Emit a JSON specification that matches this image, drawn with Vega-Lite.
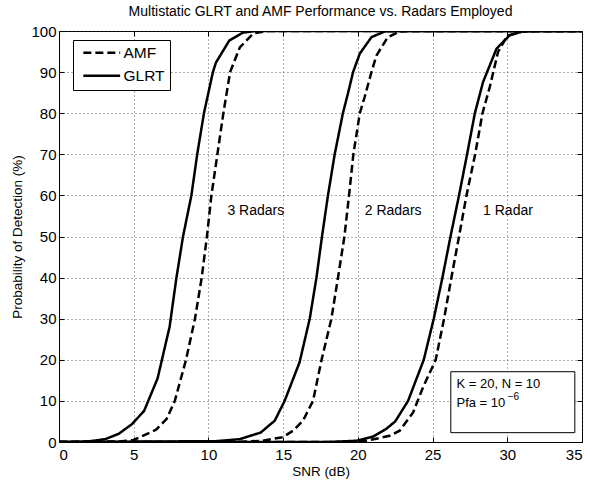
{
  "$schema": "https://vega.github.io/schema/vega-lite/v6.json",
  "autosize": {"type": "none"},
  "padding": {"left": 59, "top": 31, "right": 8, "bottom": 42},
  "width": 523,
  "height": 411,
  "background": "white",
  "title": {
    "text": "Multistatic GLRT and AMF Performance vs. Radars Employed",
    "font": "Liberation Sans",
    "fontSize": 14,
    "fontWeight": "normal",
    "color": "black",
    "anchor": "middle",
    "frame": "group",
    "baseline": "alphabetic",
    "offset": -6
  },
  "config": {
    "font": "Liberation Sans",
    "view": {"stroke": "black", "strokeWidth": 1},
    "axis": {
      "domainColor": "black",
      "tickColor": "black",
      "labelColor": "black",
      "titleColor": "black",
      "labelFont": "Liberation Sans",
      "titleFont": "Liberation Sans",
      "labelFontSize": 15,
      "titleFontSize": 13.5,
      "titleFontWeight": "normal",
      "gridColor": "#333",
      "gridDash": [1, 3],
      "gridWidth": 1,
      "gridOpacity": 0.8
    },
    "legend": {
      "labelFont": "Liberation Sans",
      "labelFontSize": 15.5,
      "labelColor": "black"
    }
  },
  "resolve": {"axis": {"x": "independent", "y": "independent"}},
  "datasets": {
    "curves": [
      {"radars": "3", "method": "GLRT", "snr": 0, "pd": 0},
      {"radars": "3", "method": "GLRT", "snr": 1, "pd": 0},
      {"radars": "3", "method": "GLRT", "snr": 2, "pd": 0.15},
      {"radars": "3", "method": "GLRT", "snr": 3.1, "pd": 0.7},
      {"radars": "3", "method": "GLRT", "snr": 4.0, "pd": 2.0},
      {"radars": "3", "method": "GLRT", "snr": 4.9, "pd": 4.4},
      {"radars": "3", "method": "GLRT", "snr": 5.7, "pd": 7.6},
      {"radars": "3", "method": "GLRT", "snr": 6.6, "pd": 15.5},
      {"radars": "3", "method": "GLRT", "snr": 7.4, "pd": 28},
      {"radars": "3", "method": "GLRT", "snr": 7.86, "pd": 40},
      {"radars": "3", "method": "GLRT", "snr": 8.3, "pd": 50},
      {"radars": "3", "method": "GLRT", "snr": 8.86, "pd": 60},
      {"radars": "3", "method": "GLRT", "snr": 9.25, "pd": 70},
      {"radars": "3", "method": "GLRT", "snr": 9.7, "pd": 80},
      {"radars": "3", "method": "GLRT", "snr": 10.3, "pd": 90},
      {"radars": "3", "method": "GLRT", "snr": 10.5, "pd": 92.3},
      {"radars": "3", "method": "GLRT", "snr": 11.4, "pd": 97.7},
      {"radars": "3", "method": "GLRT", "snr": 12.3, "pd": 99.6},
      {"radars": "3", "method": "GLRT", "snr": 13.2, "pd": 100},
      {"radars": "3", "method": "GLRT", "snr": 35, "pd": 100},
      {"radars": "3", "method": "AMF", "snr": 0, "pd": 0},
      {"radars": "3", "method": "AMF", "snr": 4, "pd": 0.1},
      {"radars": "3", "method": "AMF", "snr": 5.0, "pd": 0.5},
      {"radars": "3", "method": "AMF", "snr": 5.6, "pd": 1.5},
      {"radars": "3", "method": "AMF", "snr": 6.5, "pd": 3.0},
      {"radars": "3", "method": "AMF", "snr": 7.2, "pd": 5.6},
      {"radars": "3", "method": "AMF", "snr": 7.75, "pd": 10},
      {"radars": "3", "method": "AMF", "snr": 8.5, "pd": 20},
      {"radars": "3", "method": "AMF", "snr": 9.1, "pd": 30},
      {"radars": "3", "method": "AMF", "snr": 9.55, "pd": 40},
      {"radars": "3", "method": "AMF", "snr": 9.9, "pd": 50},
      {"radars": "3", "method": "AMF", "snr": 10.2, "pd": 60},
      {"radars": "3", "method": "AMF", "snr": 10.6, "pd": 70},
      {"radars": "3", "method": "AMF", "snr": 11.0, "pd": 80},
      {"radars": "3", "method": "AMF", "snr": 11.45, "pd": 90},
      {"radars": "3", "method": "AMF", "snr": 12.1, "pd": 96},
      {"radars": "3", "method": "AMF", "snr": 13.0, "pd": 99.4},
      {"radars": "3", "method": "AMF", "snr": 14.0, "pd": 100},
      {"radars": "3", "method": "AMF", "snr": 35, "pd": 100},
      {"radars": "2", "method": "GLRT", "snr": 0, "pd": 0},
      {"radars": "2", "method": "GLRT", "snr": 10.5, "pd": 0.2},
      {"radars": "2", "method": "GLRT", "snr": 12.1, "pd": 0.7},
      {"radars": "2", "method": "GLRT", "snr": 13.5, "pd": 2.3},
      {"radars": "2", "method": "GLRT", "snr": 14.44, "pd": 5.2},
      {"radars": "2", "method": "GLRT", "snr": 15.1, "pd": 10},
      {"radars": "2", "method": "GLRT", "snr": 16.1, "pd": 19.4},
      {"radars": "2", "method": "GLRT", "snr": 16.78, "pd": 30},
      {"radars": "2", "method": "GLRT", "snr": 17.23, "pd": 40},
      {"radars": "2", "method": "GLRT", "snr": 17.6, "pd": 50},
      {"radars": "2", "method": "GLRT", "snr": 18.0, "pd": 60},
      {"radars": "2", "method": "GLRT", "snr": 18.45, "pd": 70},
      {"radars": "2", "method": "GLRT", "snr": 19.0, "pd": 80},
      {"radars": "2", "method": "GLRT", "snr": 19.35, "pd": 85},
      {"radars": "2", "method": "GLRT", "snr": 19.68, "pd": 90},
      {"radars": "2", "method": "GLRT", "snr": 20.13, "pd": 94.5},
      {"radars": "2", "method": "GLRT", "snr": 20.91, "pd": 98.5},
      {"radars": "2", "method": "GLRT", "snr": 21.8, "pd": 99.9},
      {"radars": "2", "method": "GLRT", "snr": 22.7, "pd": 100},
      {"radars": "2", "method": "GLRT", "snr": 35, "pd": 100},
      {"radars": "2", "method": "AMF", "snr": 0, "pd": 0},
      {"radars": "2", "method": "AMF", "snr": 12, "pd": 0},
      {"radars": "2", "method": "AMF", "snr": 13.65, "pd": 0.3},
      {"radars": "2", "method": "AMF", "snr": 15.0, "pd": 1.2},
      {"radars": "2", "method": "AMF", "snr": 15.66, "pd": 2.75},
      {"radars": "2", "method": "AMF", "snr": 16.33, "pd": 5.2},
      {"radars": "2", "method": "AMF", "snr": 17.0, "pd": 10},
      {"radars": "2", "method": "AMF", "snr": 17.56, "pd": 19.8},
      {"radars": "2", "method": "AMF", "snr": 18.23, "pd": 30},
      {"radars": "2", "method": "AMF", "snr": 18.67, "pd": 40},
      {"radars": "2", "method": "AMF", "snr": 19.1, "pd": 50},
      {"radars": "2", "method": "AMF", "snr": 19.41, "pd": 60},
      {"radars": "2", "method": "AMF", "snr": 19.7, "pd": 70},
      {"radars": "2", "method": "AMF", "snr": 20.13, "pd": 80},
      {"radars": "2", "method": "AMF", "snr": 20.46, "pd": 84},
      {"radars": "2", "method": "AMF", "snr": 20.91, "pd": 90},
      {"radars": "2", "method": "AMF", "snr": 21.24, "pd": 94},
      {"radars": "2", "method": "AMF", "snr": 22.0, "pd": 98.5},
      {"radars": "2", "method": "AMF", "snr": 22.8, "pd": 99.9},
      {"radars": "2", "method": "AMF", "snr": 23.6, "pd": 100},
      {"radars": "2", "method": "AMF", "snr": 35, "pd": 100},
      {"radars": "1", "method": "GLRT", "snr": 0, "pd": 0},
      {"radars": "1", "method": "GLRT", "snr": 18, "pd": 0},
      {"radars": "1", "method": "GLRT", "snr": 19.9, "pd": 0.3},
      {"radars": "1", "method": "GLRT", "snr": 21.0, "pd": 1.3},
      {"radars": "1", "method": "GLRT", "snr": 21.9, "pd": 3.2},
      {"radars": "1", "method": "GLRT", "snr": 22.5, "pd": 5.0},
      {"radars": "1", "method": "GLRT", "snr": 23.36, "pd": 10},
      {"radars": "1", "method": "GLRT", "snr": 24.41, "pd": 20},
      {"radars": "1", "method": "GLRT", "snr": 25.08, "pd": 30},
      {"radars": "1", "method": "GLRT", "snr": 25.66, "pd": 40},
      {"radars": "1", "method": "GLRT", "snr": 26.2, "pd": 50},
      {"radars": "1", "method": "GLRT", "snr": 26.77, "pd": 60},
      {"radars": "1", "method": "GLRT", "snr": 27.31, "pd": 70},
      {"radars": "1", "method": "GLRT", "snr": 27.83, "pd": 80},
      {"radars": "1", "method": "GLRT", "snr": 28.38, "pd": 87.6},
      {"radars": "1", "method": "GLRT", "snr": 29.28, "pd": 95.7},
      {"radars": "1", "method": "GLRT", "snr": 30.17, "pd": 99},
      {"radars": "1", "method": "GLRT", "snr": 31.06, "pd": 99.9},
      {"radars": "1", "method": "GLRT", "snr": 32, "pd": 100},
      {"radars": "1", "method": "GLRT", "snr": 35, "pd": 100},
      {"radars": "1", "method": "AMF", "snr": 0, "pd": 0},
      {"radars": "1", "method": "AMF", "snr": 19, "pd": 0},
      {"radars": "1", "method": "AMF", "snr": 20.58, "pd": 0.3},
      {"radars": "1", "method": "AMF", "snr": 22.13, "pd": 1.5},
      {"radars": "1", "method": "AMF", "snr": 22.8, "pd": 2.75},
      {"radars": "1", "method": "AMF", "snr": 23.7, "pd": 7.2},
      {"radars": "1", "method": "AMF", "snr": 24.36, "pd": 13.3},
      {"radars": "1", "method": "AMF", "snr": 25.21, "pd": 20},
      {"radars": "1", "method": "AMF", "snr": 25.77, "pd": 30},
      {"radars": "1", "method": "AMF", "snr": 26.26, "pd": 40},
      {"radars": "1", "method": "AMF", "snr": 26.77, "pd": 50},
      {"radars": "1", "method": "AMF", "snr": 27.27, "pd": 60},
      {"radars": "1", "method": "AMF", "snr": 27.85, "pd": 70},
      {"radars": "1", "method": "AMF", "snr": 28.34, "pd": 80},
      {"radars": "1", "method": "AMF", "snr": 28.83, "pd": 86.4},
      {"radars": "1", "method": "AMF", "snr": 29.38, "pd": 94.9},
      {"radars": "1", "method": "AMF", "snr": 30.0, "pd": 98.8},
      {"radars": "1", "method": "AMF", "snr": 31.0, "pd": 99.9},
      {"radars": "1", "method": "AMF", "snr": 32, "pd": 100},
      {"radars": "1", "method": "AMF", "snr": 35, "pd": 100}
    ],
    "labels": [
      {"snr": 11.27, "pd": 56.3, "text": "3 Radars"},
      {"snr": 20.46, "pd": 56.3, "text": "2 Radars"},
      {"snr": 28.38, "pd": 56.3, "text": "1 Radar"}
    ],
    "box": [
      {"x1": 26.22, "x2": 34.52, "y1": 2.27, "y2": 17.1}
    ],
    "notes": [
      {"snr": 26.6, "pd": 14.1, "text": "K = 20, N = 10"},
      {"snr": 26.6, "pd": 9.4, "text": "Pfa = 10"}
    ],
    "sup": [
      {"snr": 30.03, "pd": 11.0, "text": "−6"}
    ]
  },
  "layer": [
    {
      "data": {"name": "curves"},
      "mark": {"type": "line", "color": "black", "strokeWidth": 2.5, "strokeCap": "butt", "clip": true},
      "encoding": {
        "x": {
          "field": "snr", "type": "quantitative",
          "scale": {"domain": [0, 35], "nice": false, "zero": false},
          "axis": {
            "title": "SNR (dB)",
            "values": [0, 5, 10, 15, 20, 25, 30, 35],
            "tickSize": -5,
            "labelPadding": 10,
            "titlePadding": 2,
            "grid": true
          }
        },
        "y": {
          "field": "pd", "type": "quantitative",
          "scale": {"domain": [0, 100], "nice": false},
          "axis": {
            "title": "Probability of Detection (%)",
            "values": [0, 10, 20, 30, 40, 50, 60, 70, 80, 90, 100],
            "tickSize": -5,
            "labelPadding": 8,
            "titlePadding": 6,
            "grid": true
          }
        },
        "detail": {"field": "radars"},
        "strokeDash": {
          "field": "method", "type": "nominal",
          "scale": {"domain": ["AMF", "GLRT"], "range": [[8, 4], [1, 0]]},
          "legend": {
            "title": null,
            "orient": "none",
            "legendX": 14,
            "legendY": 9,
            "strokeColor": "black",
            "fillColor": "white",
            "padding": 5,
            "symbolType": "M-4.6,0H4.6",
            "symbolSize": 64,
            "symbolStrokeWidth": 2.5,
            "symbolStrokeColor": "black",
            "symbolOffset": 16,
            "labelOffset": 14,
            "rowPadding": 6
          }
        }
      }
    },
    {
      "data": {"name": "labels"},
      "mark": {"type": "text", "opacity": 0},
      "encoding": {
        "x": {
          "field": "snr", "type": "quantitative",
          "axis": {"orient": "top", "labels": false, "title": null, "grid": false, "domain": false, "tickSize": -5, "values": [0, 5, 10, 15, 20, 25, 30, 35]}
        },
        "y": {
          "field": "pd", "type": "quantitative",
          "axis": {"orient": "right", "labels": false, "title": null, "grid": false, "domain": false, "tickSize": -5, "values": [0, 10, 20, 30, 40, 50, 60, 70, 80, 90, 100]}
        },
        "text": {"field": "text"}
      }
    },
    {
      "data": {"name": "labels"},
      "mark": {"type": "text", "align": "left", "baseline": "middle", "fontSize": 14, "font": "Liberation Sans", "color": "black"},
      "encoding": {
        "x": {"field": "snr", "type": "quantitative", "axis": null},
        "y": {"field": "pd", "type": "quantitative", "axis": null},
        "text": {"field": "text"}
      }
    },
    {
      "data": {"name": "box"},
      "mark": {"type": "rect", "fill": "white", "stroke": "black", "strokeWidth": 1},
      "encoding": {
        "x": {"field": "x1", "type": "quantitative", "axis": null},
        "x2": {"field": "x2"},
        "y": {"field": "y1", "type": "quantitative", "axis": null},
        "y2": {"field": "y2"}
      }
    },
    {
      "data": {"name": "notes"},
      "mark": {"type": "text", "align": "left", "baseline": "middle", "fontSize": 13, "font": "Liberation Sans", "color": "black"},
      "encoding": {
        "x": {"field": "snr", "type": "quantitative", "axis": null},
        "y": {"field": "pd", "type": "quantitative", "axis": null},
        "text": {"field": "text"}
      }
    },
    {
      "data": {"name": "sup"},
      "mark": {"type": "text", "align": "left", "baseline": "middle", "fontSize": 10, "font": "Liberation Sans", "color": "black"},
      "encoding": {
        "x": {"field": "snr", "type": "quantitative", "axis": null},
        "y": {"field": "pd", "type": "quantitative", "axis": null},
        "text": {"field": "text"}
      }
    }
  ]
}
